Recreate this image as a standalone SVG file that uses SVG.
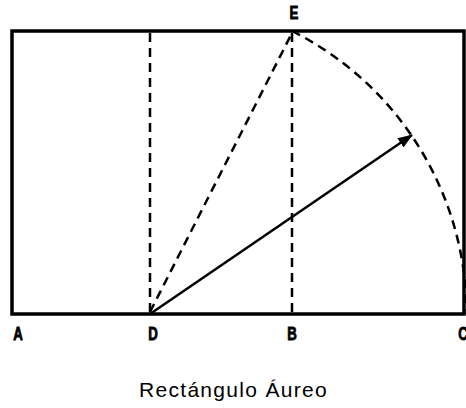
<svg xmlns="http://www.w3.org/2000/svg" width="466" height="408" viewBox="0 0 466 408">
  <style>
    .frame { fill: none; stroke: #000; stroke-width: 3.5; }
    .dash { fill: none; stroke: #000; stroke-width: 2.5; stroke-dasharray: 9 6; }
    .solid { fill: none; stroke: #000; stroke-width: 2.5; }
    .lbl { font-family: "Liberation Sans", Arial, sans-serif; font-weight: 900; font-size: 19px; fill: #000; stroke: #000; stroke-width: 0.9; text-anchor: middle; }
    .cap { font-family: "Liberation Sans", Arial, sans-serif; font-size: 21px; letter-spacing: 1.3px; fill: #000; }
  </style>
  <defs>
    <marker id="arrow" markerWidth="15" markerHeight="11" refX="14" refY="5.5" orient="auto" markerUnits="userSpaceOnUse">
      <path d="M0,0 L15,5.5 L0,11 Z" fill="#000"/>
    </marker>
  </defs>
  <rect id="rectangle" class="frame" x="12" y="31" width="452" height="283"/>
  <g id="connectors">
    <line class="dash" x1="150" y1="33" x2="150" y2="312"/>
    <line class="dash" x1="292" y1="33" x2="292" y2="312"/>
    <line class="dash" x1="150" y1="312" x2="292" y2="33"/>
    <path class="dash" d="M292,31 A316.6,316.6 0 0 1 466.6,314"/>
    <line class="solid" x1="150" y1="314" x2="412" y2="135" marker-end="url(#arrow)"/>
  </g>
  <g id="label-A"><text class="lbl" transform="translate(18,340) scale(0.7,1)">A</text></g>
  <g id="label-D"><text class="lbl" transform="translate(153,340) scale(0.7,1)">D</text></g>
  <g id="label-B"><text class="lbl" transform="translate(292,340) scale(0.7,1)">B</text></g>
  <g id="label-C"><text class="lbl" transform="translate(463,340) scale(0.7,1)">C</text></g>
  <g id="label-E"><text class="lbl" transform="translate(294,19) scale(0.7,1)">E</text></g>
  <text class="cap" x="139" y="397">Rectángulo Áureo</text>
</svg>
